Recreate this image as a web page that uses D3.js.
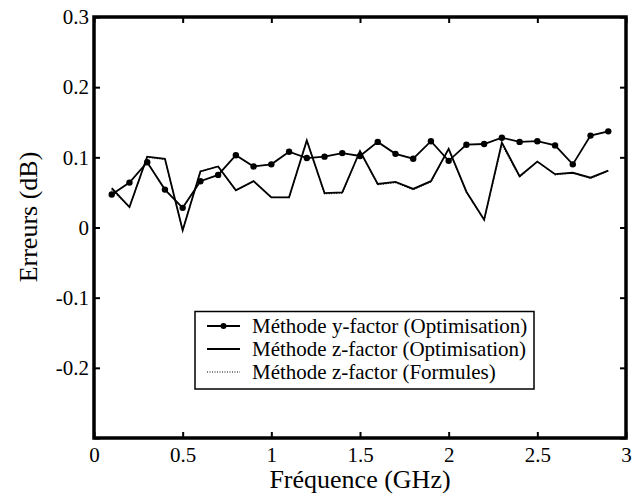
<!DOCTYPE html>
<html>
<head>
<meta charset="utf-8">
<script src="https://cdn.jsdelivr.net/npm/d3@7"></script>
<style>
  body { margin: 0; background: #fff; }
  text { font-family: "Liberation Serif", "Times New Roman", serif; fill: #000; }
</style>
</head>
<body>
<svg width="633" height="497"></svg>
<script>
// frequencies (GHz)
var freq = [0.1,0.2,0.3,0.4,0.5,0.6,0.7,0.8,0.9,1.0,1.1,1.2,1.3,1.4,1.5,
            1.6,1.7,1.8,1.9,2.0,2.1,2.2,2.3,2.4,2.5,2.6,2.7,2.8,2.9]
// errors (dB)
var yOpt = [0.047,0.064,0.093,0.054,0.028,0.066,0.075,0.103,0.087,0.090,0.108,0.099,0.101,0.106,0.102,
            0.122,0.105,0.098,0.123,0.095,0.118,0.119,0.128,0.122,0.123,0.117,0.090,0.131,0.137]
var zOpt = [0.056,0.029,0.101,0.098,-0.004,0.080,0.087,0.053,0.066,0.043,0.043,0.124,0.049,0.050,0.109,
            0.062,0.065,0.055,0.066,0.112,0.051,0.011,0.121,0.073,0.094,0.076,0.078,0.071,0.081]
var zForm = [0.054,0.029,0.100,0.097,-0.004,0.080,0.087,0.053,0.066,0.043,0.043,0.124,0.048,0.049,0.109,
             0.061,0.064,0.054,0.065,0.112,0.050,0.011,0.118,0.072,0.094,0.075,0.078,0.070,0.081]
var xTicks = [0,0.5,1,1.5,2,2.5,3]
var yTicks = [-0.3,-0.2,-0.1,0,0.1,0.2,0.3]
var yLabels = ["","-0.2","-0.1","0","0.1","0.2","0.3"]
var legendLabels = ["Méthode y-factor (Optimisation)","Méthode z-factor (Optimisation)","Méthode z-factor (Formules)"]

var svg = d3.select("svg")
var xScale = d3.scaleLinear().domain([0,3]).range([94,626])
var yScale = d3.scaleLinear().domain([-0.3,0.3]).range([438,17])

// axes, ticks inward
svg.append("g").attr("transform","translate(0,438)")
  .call(d3.axisBottom(xScale).tickValues(xTicks).tickSize(-6).tickPadding(9).tickFormat(d => String(d)))
svg.append("g").attr("transform","translate(0,17)")
  .call(d3.axisTop(xScale).tickValues(xTicks).tickSize(-6).tickFormat(""))
svg.append("g").attr("transform","translate(94,0)")
  .call(d3.axisLeft(yScale).tickValues(yTicks).tickSize(-6).tickPadding(5)
        .tickFormat((d,i) => yLabels[i]))
svg.append("g").attr("transform","translate(626,0)")
  .call(d3.axisRight(yScale).tickValues(yTicks).tickSize(-6).tickFormat(""))

svg.selectAll(".domain").remove()
svg.selectAll(".tick line").attr("stroke","#000").attr("stroke-width",2)
svg.selectAll(".tick text").attr("font-size",21).attr("font-family","Liberation Serif")

svg.append("rect")
  .attr("x",94).attr("y",17).attr("width",532).attr("height",421)
  .attr("fill","none").attr("stroke","#000").attr("stroke-width",3.5)

// lines
var pts = s => freq.map((f,i) => [f, s[i]])
var line = d3.line().x(d => xScale(d[0])).y(d => yScale(d[1]))

svg.append("path").datum(pts(zForm)).attr("d",line)
  .attr("fill","none").attr("stroke","#000").attr("stroke-width",1.2).attr("stroke-dasharray","1,1.5")
svg.append("path").datum(pts(zOpt)).attr("d",line)
  .attr("fill","none").attr("stroke","#000").attr("stroke-width",1.8)
svg.append("path").datum(pts(yOpt)).attr("d",line)
  .attr("fill","none").attr("stroke","#000").attr("stroke-width",1.8)
svg.selectAll("circle.pt").data(pts(yOpt)).enter().append("circle")
  .attr("class","pt")
  .attr("cx", d => xScale(d[0])).attr("cy", d => yScale(d[1])).attr("r",3.2)
  .attr("fill","#000")

// axis titles
svg.append("text").attr("x",360).attr("y",488).attr("text-anchor","middle")
  .attr("font-size",26).text("Fréquence (GHz)")
svg.append("text").attr("transform","translate(37,217) rotate(-90)").attr("text-anchor","middle")
  .attr("font-size",26).text("Erreurs (dB)")

// legend
var lg = svg.append("g")
lg.append("rect").attr("x",195).attr("y",311.5).attr("width",339).attr("height",77.5)
  .attr("fill","#fff").attr("stroke","#000").attr("stroke-width",1.5)
var rows = lg.selectAll("g.row").data(legendLabels).enter().append("g")
  .attr("class","row").attr("transform",(d,i) => "translate(0," + (333 + i*23) + ")")
rows.append("text").attr("x",252).attr("y",0).attr("font-size",21).text(d => d)
rows.append("line").attr("x1",207).attr("x2",240).attr("y1",-7).attr("y2",-7)
  .attr("stroke","#000")
  .attr("stroke-width",(d,i) => i == 2 ? 1.2 : 1.8)
  .attr("stroke-dasharray",(d,i) => i == 2 ? "1,1.5" : null)
rows.filter((d,i) => i == 0).append("circle").attr("cx",223.5).attr("cy",-7).attr("r",3).attr("fill","#000")
</script>
</body>
</html>
